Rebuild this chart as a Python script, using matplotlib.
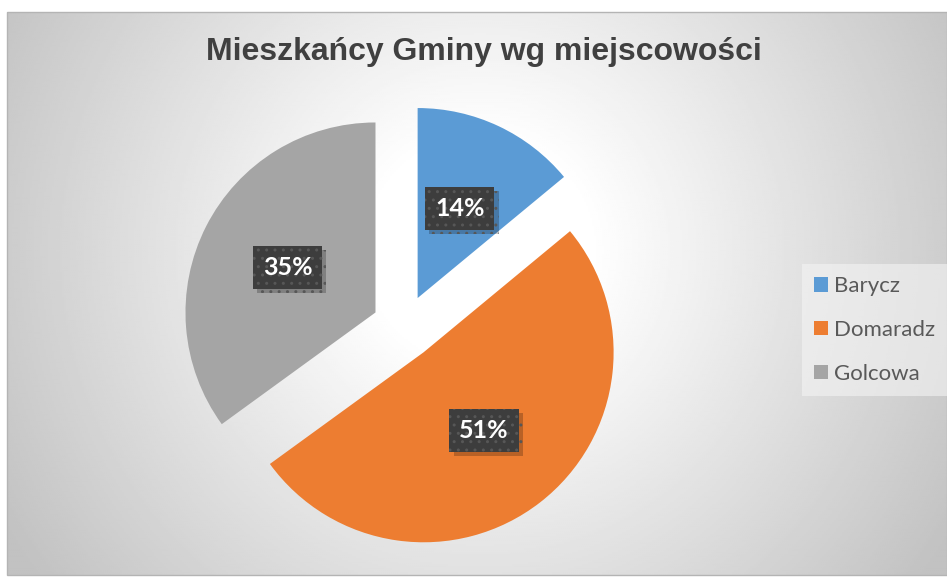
# Mieszkańcy Gminy wg miejscowości - exploded pie, Excel style

import numpy as np
import matplotlib.pyplot as plt
import matplotlib.patheffects as pe

# Data
places = ["Barycz", "Domaradz", "Golcowa"]
shares = [14, 51, 35]
colors = ["#5B9BD5", "#ED7D31", "#A5A5A5"]
title = "Mieszkańcy Gminy wg miejscowości"

W, H = 947, 577
fig = plt.figure(figsize=(W / 100, H / 100), dpi=100)
ax = fig.add_axes([0, 0, 1, 1])

# radial gradient background of the chart area
x0, x1, y0, y1 = 7, 947, 2, 565
gx, gy = np.meshgrid(np.linspace(x0, x1, 470), np.linspace(y1, y0, 280))
d = np.hypot(gx - 480, gy - (H - 250))
shade = 1 - 0.19 * np.clip((d - 110) / 350, 0, None)
shade = np.clip(shade, 0.76, 1)
ax.imshow(shade, cmap="gray", vmin=0, vmax=1, extent=(x0, x1, y0, y1),
          aspect="auto", zorder=0, interpolation="bilinear")
ax.add_patch(plt.Rectangle((x0, y0), x1 - x0, y1 - y0, fill=False,
                           edgecolor="#b4b4b4", linewidth=1, zorder=1))

# pie
wedges, texts, autotexts = ax.pie(
    shares, colors=colors, startangle=90, counterclock=False,
    center=(404, H - 327), radius=190, explode=[32, 32, 32],
    autopct="%1.0f%%", pctdistance=0.52,
    textprops=dict(color="white", fontsize=18, fontweight="bold", family="Lato"),
    wedgeprops=dict(linewidth=0), frame=True,
)
ax.set_xlim(0, W)
ax.set_ylim(0, H)
ax.set_aspect("equal")
ax.axis("off")
for w in wedges:
    w.set_zorder(2)

for t in autotexts:
    t.set_zorder(4)
    t.set_bbox(dict(boxstyle="square,pad=0.4", facecolor="#3d3d3d",
                    edgecolor="#575757", linewidth=0, hatch=".."))
    t.get_bbox_patch().set_path_effects(
        [pe.SimplePatchShadow(offset=(3, -3), alpha=0.22, shadow_rgbFace="black"),
         pe.Normal()])

# title
ax.text(484, H - 52, title, ha="center", va="center", fontsize=23,
        fontweight="bold", color="#404040", family="Liberation Sans", zorder=5)

# legend
leg = ax.legend(wedges, places, loc="center left",
                bbox_to_anchor=(802 / W, 1 - 330 / H), borderaxespad=0,
                prop=dict(family="Lato", size=16), labelcolor="#595959",
                handlelength=0.62, handleheight=0.62, handletextpad=0.28,
                labelspacing=1.06, borderpad=0.55,
                frameon=True, fancybox=False, facecolor="#f4f4f4",
                edgecolor="none", framealpha=0.6)
leg.set_zorder(5)

fig.savefig("out.png", dpi=100)
